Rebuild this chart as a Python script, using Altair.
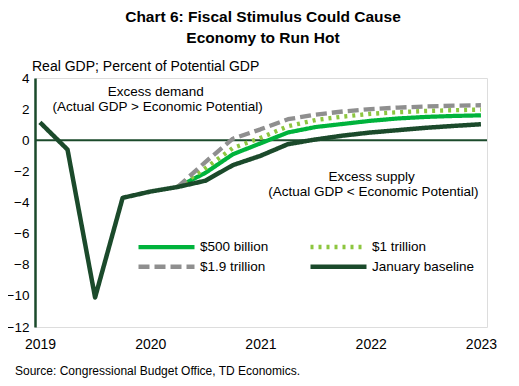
import altair as alt
import pandas as pd

# ---- data (quarterly index: 0 = 2019 Q1 ... 16 = 2023 Q1) ----
year_labels = ["2019", "2020", "2021", "2022", "2023"]
y_ticks = [-12, -10, -8, -6, -4, -2, 0, 2, 4]

baseline_q = list(range(0, 17))
baseline = [1.15, -0.6, -10.1, -3.7, -3.3, -3.0, -2.6, -1.6, -1.0, -0.25,
            0.05, 0.3, 0.5, 0.65, 0.8, 0.92, 1.03]

scen_q = list(range(5, 17))
s500 = [-3.0, -2.1, -0.9, -0.2, 0.5, 0.85, 1.05, 1.25, 1.4, 1.5, 1.56, 1.6]
s1t = [-3.0, -1.8, -0.5, 0.15, 0.9, 1.3, 1.52, 1.7, 1.8, 1.88, 1.93, 1.97]
s19t = [-3.0, -1.4, 0.1, 0.7, 1.35, 1.65, 1.85, 2.0, 2.1, 2.17, 2.22, 2.25]

# legend order (column-major fill): col 1 = $500 billion, $1.9 trillion; col 2 = $1 trillion, January baseline
series_names = ["$500 billion", "$1.9 trillion", "$1 trillion", "January baseline"]
series_colors = ["#00B33C", "#8F8F8F", "#8DC63F", "#1B4A2B"]
series_dash = [[1, 0], [11, 5], [3, 5], [1, 0]]
series_width = [4.2, 4.5, 3.3, 4.5]

annot_text = ["Excess demand", "(Actual GDP > Economic Potential)",
              "Excess supply", "(Actual GDP < Economic Potential)"]
annot_x = [4.2, 4.27, 12.03, 12.1]
annot_y = [3.1, 2.12, -2.37, -3.33]

title_lines = ["Chart 6: Fiscal  Stimulus Could Cause", "Economy  to Run Hot"]
subtitle = "Real GDP; Percent of Potential GDP"
source = "Source: Congressional Budget Office, TD Economics."

# ---- tables ----
rows = []
for name, vals in [("$500 billion", s500), ("$1 trillion", s1t), ("$1.9 trillion", s19t)]:
    for q, v in zip(scen_q, vals):
        rows.append({"q": q, "value": v, "series": name})
for q, v in zip(baseline_q, baseline):
    rows.append({"q": q, "value": v, "series": "January baseline"})
df = pd.DataFrame(rows)

annot = pd.DataFrame({"text": annot_text, "q": annot_x, "value": annot_y})
zero = pd.DataFrame({"value": [0]})
sub_df = pd.DataFrame({"t": [subtitle]})
src_df = pd.DataFrame({"t": [source]})

FONT = "Liberation Sans"
DARK = "#1B4A2B"

x_scale = alt.Scale(domain=[-0.18, 16.22], nice=False, zero=False)
y_scale = alt.Scale(domain=[-12, 4], nice=False)

x_axis = alt.Axis(values=[0, 4, 8, 12, 16],
                  labelExpr="'' + (2019 + datum.value / 4)",
                  title=None, grid=False, domain=False, ticks=False,
                  labelPadding=10, labelFontSize=14, labelColor="#000000",
                  labelFont=FONT, labelOverlap=False)
y_axis = alt.Axis(values=y_ticks, title=None, grid=False, ticks=False,
                  domainColor=DARK, domainWidth=2.5, labelPadding=6,
                  labelFontSize=13.5, labelColor="#000000", labelFont=FONT,
                  labelOverlap=False)

rule = alt.Chart(zero).mark_rule(color=DARK, strokeWidth=2).encode(
    y=alt.Y("value:Q", scale=y_scale, axis=y_axis)
)

lines = alt.Chart(df).mark_line(strokeJoin="round").encode(
    x=alt.X("q:Q", scale=x_scale, axis=x_axis),
    y=alt.Y("value:Q", scale=y_scale, axis=y_axis),
    color=alt.Color("series:N",
                    scale=alt.Scale(domain=series_names, range=series_colors),
                    legend=alt.Legend(
                        title=None, orient="none", legendX=151, legendY=162,
                        columns=2, gridAlign="each", columnPadding=32,
                        rowPadding=1, padding=0,
                        symbolType="M-15.5,0L0.5,0", symbolSize=49,
                        symbolStrokeWidth=4, labelOffset=0.5,
                        labelFontSize=13.5, labelFont=FONT,
                        labelColor="#000000")),
    strokeDash=alt.StrokeDash("series:N",
                              scale=alt.Scale(domain=series_names, range=series_dash)),
    strokeWidth=alt.StrokeWidth("series:N",
                                scale=alt.Scale(domain=series_names, range=series_width),
                                legend=None),
    detail="series:N",
)

texts = alt.Chart(annot).mark_text(font=FONT, fontSize=13.5, color="#000000").encode(
    x=alt.X("q:Q", scale=x_scale, axis=x_axis),
    y=alt.Y("value:Q", scale=y_scale, axis=y_axis),
    text="text:N",
)

sub = alt.Chart(sub_df).mark_text(font=FONT, fontSize=14, color="#000000",
                                  align="left", baseline="middle").encode(
    x=alt.value(-3), y=alt.value(-11), text="t:N")

src = alt.Chart(src_df).mark_text(font=FONT, fontSize=12, color="#000000",
                                  align="left", baseline="middle").encode(
    x=alt.value(-20), y=alt.value(292.5), text="t:N")

chart = alt.layer(rule, lines, texts, sub, src).properties(
    width=452, height=249,
    title=alt.TitleParams(title_lines, font=FONT, fontSize=15.5, fontWeight="bold",
                          color="#000000", anchor="middle", frame="group",
                          offset=14, lineHeight=21, dx=2),
    padding={"left": 27, "top": 70, "right": 24, "bottom": 51},
    autosize=alt.AutoSizeParams(type="none"),
).configure_view(stroke=None).configure_axis(
    labelOverlap=False
).configure(background="#ffffff")

chart.save("out.html", embed_options={"renderer": "svg", "actions": False})
